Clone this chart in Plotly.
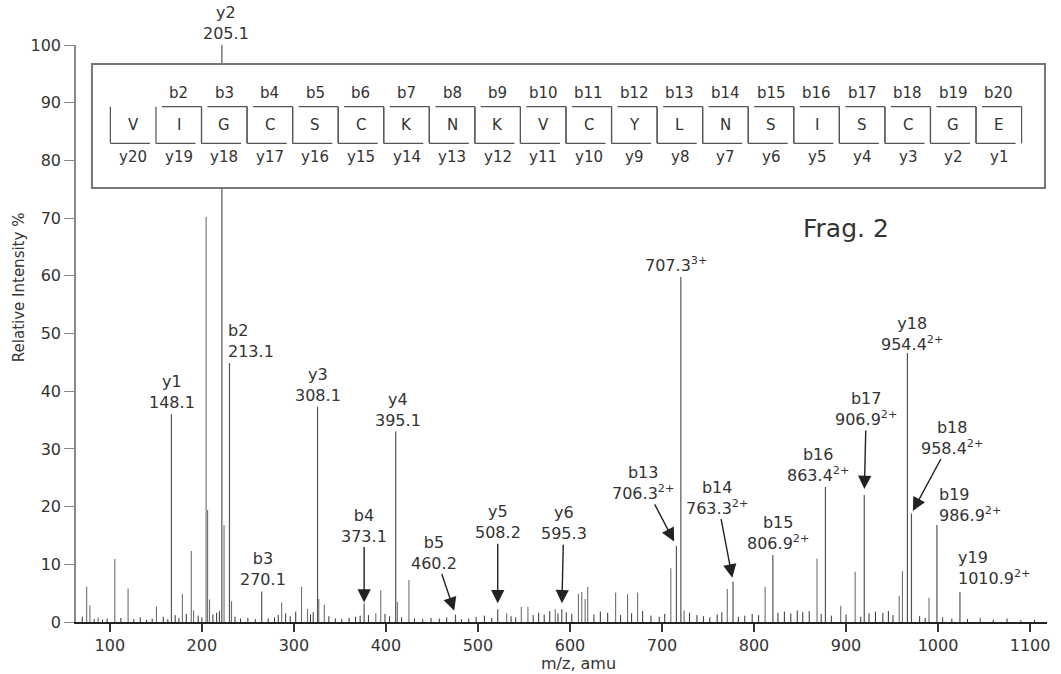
import plotly.graph_objects as go

# ---------------- data ----------------
# labelled fragment ions (axis position, relative intensity)
ion_names = ["y1", "y2", "b2", "b3", "y3", "b4", "y4", "b5", "y5", "y6",
             "b13", "p707", "b14", "b15", "b16", "b17", "y18", "b18", "b19", "y19"]
ion_text = ["y1<br>148.1", "y2<br>205.1", "b2<br>213.1", "b3<br>270.1", "y3<br>308.1",
            "b4<br>373.1", "y4<br>395.1", "b5<br>460.2", "y5<br>508.2", "y6<br>595.3",
            "b13<br>706.3<sup>2+</sup>", "707.3<sup>3+</sup>", "b14<br>763.3<sup>2+</sup>",
            "b15<br>806.9<sup>2+</sup>", "b16<br>863.4<sup>2+</sup>", "b17<br>906.9<sup>2+</sup>",
            "y18<br>954.4<sup>2+</sup>", "b18<br>958.4<sup>2+</sup>", "b19<br>986.9<sup>2+</sup>",
            "y19<br>1010.9<sup>2+</sup>"]
ion_mz = [166.9, 221.7, 230.0, 265.0, 325.7, 376.3, 410.6, 475.6, 521.5, 591.1,
          715.7, 720.5, 777.2, 820.5, 877.6, 919.8, 966.7, 971.1, 998.8, 1023.8]
ion_int = [36.0, 100.0, 44.9, 5.3, 37.3, 3.2, 33.0, 1.3, 2.2, 2.2,
           13.2, 59.8, 7.0, 11.6, 23.4, 22.0, 46.6, 18.8, 16.8, 5.2]

# other visible peaks
other_mz = [74.8, 78.3, 87.3, 105.4, 119.8, 150.6, 178.8, 188.5, 191.0, 204.6, 206.2, 208.3,
            224.1, 232.2, 286.7, 308.3, 314.8, 327.0, 333.0, 389.0, 394.4, 412.4, 425.0,
            531.2, 547.1, 554.3, 584.0, 609.2, 612.8, 616.5, 619.3, 649.6, 662.6, 673.5,
            709.6, 724.1, 771.0, 812.1, 868.5, 894.2, 909.9, 957.8, 961.3, 990.2, 1045.8]
other_int = [6.1, 2.9, 0.8, 10.9, 5.8, 2.7, 4.9, 12.3, 2.0, 70.2, 19.4, 3.9,
             16.8, 3.6, 3.4, 6.1, 2.3, 4.0, 3.0, 1.5, 5.5, 3.5, 7.3,
             1.5, 2.6, 2.6, 2.2, 4.9, 5.2, 4.0, 6.1, 5.1, 4.8, 5.1,
             9.3, 2.0, 5.7, 6.1, 11.0, 2.8, 8.7, 4.5, 8.8, 4.2, 0.8]

# baseline chemical noise
minor_mz = [70, 83, 92, 97, 112, 126, 133, 140, 146, 158, 163, 171, 175, 183, 196, 200,
            212, 216, 219, 236, 242, 250, 258, 272, 279, 283, 291, 296, 302, 318, 321, 338,
            345, 352, 360, 367, 372, 381, 399, 404, 417, 431, 440, 449, 458, 466, 482, 490,
            498, 507, 515, 536, 541, 560, 566, 572, 578, 587, 596, 602, 626, 633, 641, 655,
            667, 679, 688, 697, 703, 730, 738, 745, 752, 760, 765, 783, 790, 798, 805, 826,
            833, 840, 847, 853, 860, 873, 884, 900, 916, 925, 932, 940, 946, 951, 980, 986,
            1005, 1015, 1032, 1060, 1075, 1090, 1105]
minor_int = [0.9, 0.5, 0.4, 0.6, 0.7, 0.5, 0.8, 0.4, 0.6, 0.9, 0.5, 1.2, 0.7, 1.4, 1.1, 0.8,
             1.3, 1.6, 1.9, 0.9, 0.6, 0.7, 0.5, 0.6, 0.8, 1.2, 1.5, 1.0, 1.8, 1.3, 1.7, 1.0,
             0.6, 0.5, 0.7, 0.9, 1.1, 1.2, 1.4, 1.0, 0.8, 0.6, 0.5, 0.7, 0.6, 0.8, 0.5, 0.6,
             0.9, 1.1, 0.7, 1.0, 0.8, 1.2, 1.6, 1.3, 1.9, 1.5, 1.7, 1.4, 1.3, 1.8, 1.6, 1.2,
             1.5, 1.9, 1.1, 0.9, 1.4, 1.6, 1.2, 1.0, 0.8, 1.3, 1.7, 0.9, 1.1, 1.4, 1.2, 1.6,
             1.8, 1.5, 2.0, 1.7, 1.9, 1.4, 1.1, 1.3, 0.9, 1.5, 1.8, 1.6, 1.9, 1.2, 1.0, 0.7,
             0.8, 0.6, 0.5, 0.4, 0.6, 0.3, 0.4]

residues = ["V", "I", "G", "C", "S", "C", "K", "N", "K", "V",
            "C", "Y", "L", "N", "S", "I", "S", "C", "G", "E"]

x_ticks = [100, 200, 300, 400, 500, 600, 700, 800, 900, 1000, 1100]
y_ticks = [0, 10, 20, 30, 40, 50, 60, 70, 80, 90, 100]

# ---------------- helpers ----------------
W, H = 1061, 674
L, R, T, B = 76, 1050, 45, 622
FONT = "DejaVu Sans"
TXT = "#333333"


def px(xp):
    return (xp - L) / (R - L)


def py(yp):
    return (B - yp) / (B - T)


def stems(xs, ys):
    X, Y = [], []
    for x, y in zip(xs, ys):
        X += [x, x, None]
        Y += [0, y, None]
    return X, Y


fig = go.Figure()
mx, my = stems(minor_mz, minor_int)
fig.add_trace(go.Scatter(x=mx, y=my, mode="lines", line=dict(color="#333333", width=1),
                         hoverinfo="skip"))
ox, oy = stems(other_mz, other_int)
fig.add_trace(go.Scatter(x=ox, y=oy, mode="lines", line=dict(color="#707070", width=1.1),
                         hoverinfo="skip"))
ix, iy = stems(ion_mz, ion_int)
fig.add_trace(go.Scatter(x=ix, y=iy, mode="lines", line=dict(color="#555555", width=1.2),
                         hoverinfo="skip"))

# ---------------- ion labels ----------------
label_style = {
    "y1": dict(kind="top", xs=1, ys=0),
    "y2": dict(kind="top", xs=4, ys=0),
    "b2": dict(kind="left", xs=-3, ys=0),
    "b3": dict(kind="top", xs=1, ys=0),
    "y3": dict(kind="top", xs=0, ys=0),
    "b4": dict(kind="arrow", ax=0, ay=-78, so=1),
    "y4": dict(kind="top", xs=2, ys=0),
    "b5": dict(kind="arrow", ax=-21, ay=-62, so=4),
    "y5": dict(kind="arrow", ax=0, ay=-87, so=6),
    "y6": dict(kind="arrow", ax=2, ay=-86, so=6),
    "b13": dict(kind="arrow", ax=-33, ay=-63, so=5),
    "p707": dict(kind="top", xs=-5, ys=0),
    "b14": dict(kind="arrow", ax=-16, ay=-84, so=4),
    "b15": dict(kind="top", xs=5, ys=0),
    "b16": dict(kind="top", xs=-7, ys=0),
    "b17": dict(kind="arrow", ax=2, ay=-86, so=6),
    "y18": dict(kind="top", xs=5, ys=-3),
    "b18": dict(kind="arrow", ax=41, ay=-76, so=3),
    "b19": dict(kind="left", xs=0, ys=-2),
    "y19": dict(kind="left", xs=-4, ys=2),
}

annotations = []
for name, text, x, y in zip(ion_names, ion_text, ion_mz, ion_int):
    st = label_style[name]
    f = dict(family=FONT, size=16, color=TXT)
    if st["kind"] == "top":
        annotations.append(dict(x=x, y=y, xref="x", yref="y", text=text, showarrow=False,
                                xanchor="center", yanchor="bottom", xshift=st["xs"],
                                yshift=st["ys"], font=f, align="center"))
    elif st["kind"] == "left":
        annotations.append(dict(x=x, y=y, xref="x", yref="y", text=text, showarrow=False,
                                xanchor="left", yanchor="bottom", xshift=st["xs"],
                                yshift=st["ys"], font=f, align="left"))
    else:
        annotations.append(dict(x=x, y=y, xref="x", yref="y", text=text, showarrow=True,
                                ax=st["ax"], ay=st["ay"], arrowhead=2, arrowsize=1.9,
                                arrowwidth=1.4, arrowcolor="#222222", standoff=st["so"],
                                font=f, align="center"))


def note(xp, yp, text, size, angle=0):
    return dict(x=px(xp), y=py(yp), xref="paper", yref="paper", text=text,
                showarrow=False, xanchor="center", yanchor="middle", textangle=angle,
                font=dict(family=FONT, size=size, color=TXT))


# ---------------- sequence box ----------------
shapes = [dict(type="rect", xref="paper", yref="paper", x0=px(92), x1=px(1048),
               y0=py(188), y1=py(64), fillcolor="white", line=dict(color="#777777", width=2),
               layer="above")]
STEP = 45.7
FIRST_EDGE = 110.5
TOP_Y, BOT_Y = 106.7, 143.3
GAP = 6
n = len(residues)


def seg(x0, y0, x1, y1):
    return dict(type="line", xref="paper", yref="paper", x0=px(x0), y0=py(y0), x1=px(x1),
                y1=py(y1), line=dict(color="#555555", width=1.2), layer="above")


for j, res in enumerate(residues):
    e0 = FIRST_EDGE + STEP * j
    e1 = e0 + STEP
    cx = e0 + STEP / 2
    # y-ion bracket
    shapes.append(seg(e0, TOP_Y, e0, BOT_Y))
    shapes.append(seg(e0, BOT_Y, e1 - GAP, BOT_Y))
    annotations.append(note(cx, 125, res, 15))
    annotations.append(note(cx, 157, "y%d" % (n - j), 15))
    if j >= 1:
        shapes.append(seg(e0 + GAP, TOP_Y, e1, TOP_Y))
        shapes.append(seg(e1, TOP_Y, e1, BOT_Y))
        annotations.append(note(cx, 93, "b%d" % (j + 1), 15))

# ---------------- titles ----------------
annotations.append(note(19, 287, "Relative Intensity %", 15, -90))
annotations.append(note(580, 663, "m/z, amu", 16))
annotations.append(note(848, 229, "Frag. 2", 25))

fig.update_layout(
    width=W, height=H,
    margin=dict(l=L, r=W - R, t=T, b=H - B, pad=0),
    plot_bgcolor="white", paper_bgcolor="white", showlegend=False,
    xaxis=dict(range=[63.2, 1118.4], tickvals=x_ticks, ticks="outside", ticklen=8,
               tickwidth=1.5, tickcolor="#333333", showline=True, linecolor="#222222",
               linewidth=2, showgrid=False, zeroline=False,
               tickfont=dict(family=FONT, size=16, color=TXT)),
    yaxis=dict(range=[0, 100], tickvals=y_ticks, ticks="outside", ticklen=10,
               tickwidth=1.2, tickcolor="#888888", showline=True, linecolor="#888888",
               linewidth=1.5, showgrid=False, zeroline=False,
               tickfont=dict(family=FONT, size=16, color=TXT)),
    annotations=annotations,
    shapes=shapes,
)

fig.write_html("out.html")
